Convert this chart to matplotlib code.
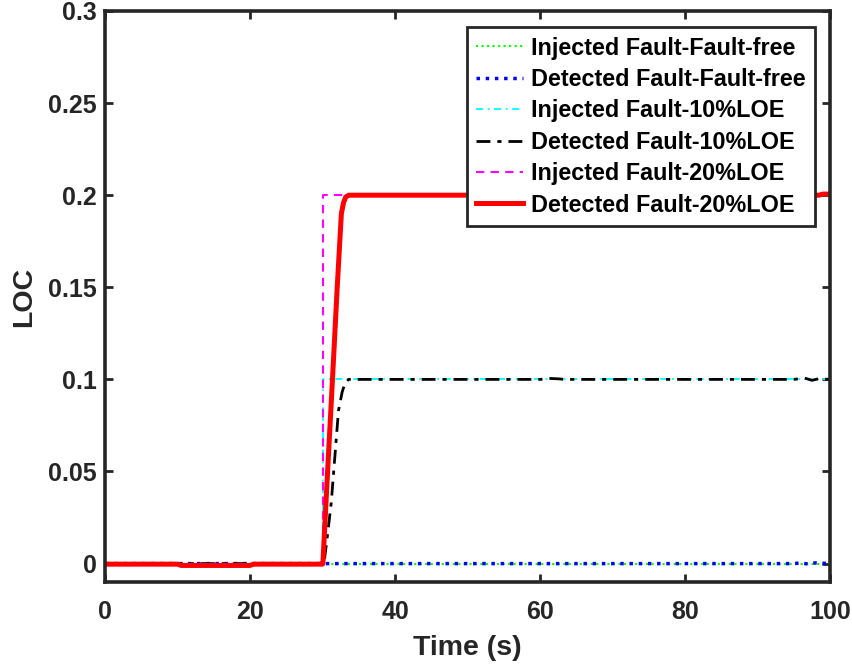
import matplotlib
matplotlib.use("Agg")
import matplotlib.pyplot as plt
from matplotlib.ticker import FixedLocator, FixedFormatter

plt.rcParams['font.family'] = ['Liberation Sans', 'DejaVu Sans']
plt.rcParams['font.weight'] = 'bold'

# Injected faults: ideal steps at t = 30 s
t_step = [0, 30, 30, 100]
inj_free = [0, 0, 0, 0]
inj_10 = [0, 0, 0.1, 0.1]
inj_20 = [0, 0, 0.2, 0.2]

# Detected fault, fault-free case
t_det_free = [0, 30, 60, 90, 95, 96, 97, 98, 99, 100]
det_free = [0, 0, 0, 0, 0, 0.0004, -0.0003, 0.0004, 0.0002, 0]

# Detected fault, 10% LOE
t_det_10 = [0, 10, 20, 30, 30.2, 30.7, 31.2, 31.7, 32.2, 32.7, 33.1, 33.6, 34,
            60, 61.5, 62.5, 63.5, 80, 95, 96.5, 97.5, 98.5, 100]
det_10 = [0, 0, 0, 0, 0, 0.016, 0.033, 0.058, 0.083, 0.093, 0.098, 0.1, 0.1,
          0.1, 0.1005, 0.1003, 0.1, 0.1, 0.1, 0.1007, 0.0995, 0.1004, 0.1]

# Detected fault, 20% LOE
t_det_20 = [0, 10, 10.5, 20, 20.5, 30, 30.05, 30.7, 31.4, 32.0, 32.6, 32.9,
            33.2, 33.6, 34, 60, 90, 98.5, 99, 100]
det_20 = [-0.0003, -0.0003, -0.001, -0.001, -0.0003, -0.0003, 0, 0.05, 0.102,
          0.148, 0.19, 0.196, 0.199, 0.2, 0.2, 0.2, 0.2, 0.2, 0.2006, 0.2006]

x_ticks = [0, 20, 40, 60, 80, 100]
y_ticks = [0, 0.05, 0.1, 0.15, 0.2, 0.25, 0.3]
y_tick_labels = ['0', '0.05', '0.1', '0.15', '0.2', '0.25', '0.3']

axis_col = '#262626'

fig = plt.figure(figsize=(8.53, 6.66), dpi=100)
ax = fig.add_axes([0.1231, 0.1261, 0.8500, 0.8574])

ax.plot(t_step, inj_free, color='#00FF00', ls=':', lw=1.5, label='Injected Fault-Fault-free')
ax.plot(t_det_free, det_free, color='#0000FF', ls=':', lw=2.5, label='Detected Fault-Fault-free')
ax.plot(t_step, inj_10, color='#00FFFF', ls=(0, (4, 2.5, 1, 2.5)), lw=1.3, label='Injected Fault-10%LOE')
ax.plot(t_det_10, det_10, color='black', ls=(0, (5, 2.5, 1.5, 2.5)), lw=2.0, label='Detected Fault-10%LOE')
ax.plot(t_step, inj_20, color='#FF00FF', ls=(0, (4, 3)), lw=1.5, label='Injected Fault-20%LOE')
ax.plot(t_det_20, det_20, color='#FF0000', ls='-', lw=3.6, label='Detected Fault-20%LOE')

ax.set_xlim(0, 100)
ax.set_ylim(-0.01, 0.3)
ax.xaxis.set_major_locator(FixedLocator(x_ticks))
ax.yaxis.set_major_locator(FixedLocator(y_ticks))
ax.yaxis.set_major_formatter(FixedFormatter(y_tick_labels))

for s in ax.spines.values():
    s.set_linewidth(2.6)
    s.set_color(axis_col)

ax.tick_params(axis='both', which='major', direction='in', length=6, width=2.0,
               color=axis_col, labelcolor=axis_col, labelsize=18,
               top=True, right=True)
ax.tick_params(axis='x', pad=13)
ax.tick_params(axis='y', pad=6)
for lab in ax.get_xticklabels() + ax.get_yticklabels():
    lab.set_fontweight('bold')

ax.set_xlabel('Time (s)', fontsize=20.5, fontweight='bold', color=axis_col, labelpad=8)
ax.set_ylabel('LOC', fontsize=20.5, fontweight='bold', color=axis_col, labelpad=8)

leg = ax.legend(loc='upper right', bbox_to_anchor=(0.9795, 0.9715),
                prop={'weight': 'bold', 'size': 16.8}, frameon=True, fancybox=False,
                handlelength=2.0, handletextpad=0.35, labelspacing=0.36,
                borderpad=0.4, borderaxespad=0.0)
leg.get_frame().set_edgecolor(axis_col)
leg.get_frame().set_linewidth(2.0)
leg.get_frame().set_alpha(1.0)

fig.savefig('out.png', dpi=100)
